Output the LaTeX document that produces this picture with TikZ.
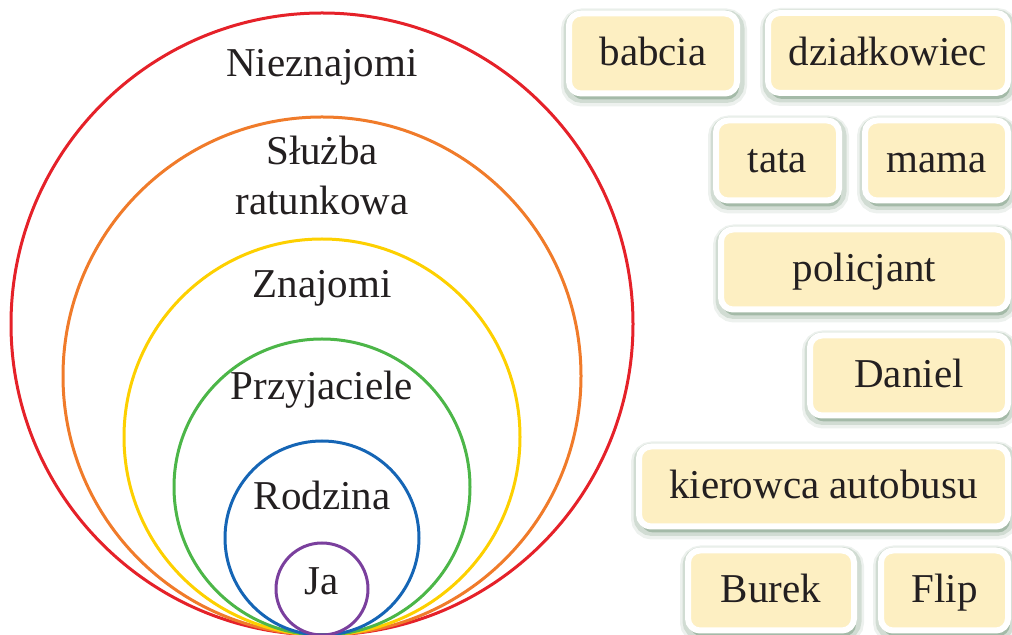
\documentclass[tikz,border=0pt]{standalone}
\usepackage{fontspec}
\setmainfont{Liberation Serif}
\usetikzlibrary{shadows}
\definecolor{ringred}{HTML}{E52129}
\definecolor{ringorange}{HTML}{F07B2A}
\definecolor{ringyellow}{HTML}{FDD000}
\definecolor{ringgreen}{HTML}{4CB648}
\definecolor{ringblue}{HTML}{1565B5}
\definecolor{ringpurple}{HTML}{7A3F9D}
\definecolor{tagfill}{HTML}{FDEFC2}
\definecolor{tagshadow}{HTML}{7F9E84}
\definecolor{ink}{HTML}{231F20}
\begin{document}
\begin{tikzpicture}[
   x=0.5pt,y=-0.5pt,
   ring/.style={line width=1.5pt},
   ringtext/.style={anchor=base,text=ink,inner sep=0pt,font=\fontsize{20.5}{25}\selectfont},
   tag/.style={rounded corners=6pt,fill=tagfill,draw=white,line width=3pt,
     text=ink,font=\fontsize{20.5}{25}\selectfont,inner sep=0pt,
     minimum height=40pt,text height=16.6pt,text depth=4.1pt,
     preaction={draw=tagshadow,line width=9pt,opacity=.14,transform canvas={xshift=.5pt,yshift=-2pt}},
     preaction={draw=tagshadow,line width=6.5pt,opacity=.25,transform canvas={xshift=.5pt,yshift=-1.5pt}},
     drop shadow={shadow xshift=1pt,shadow yshift=-3pt,fill=tagshadow,opacity=.55}}
 ]
  \useasboundingbox (0,0) rectangle (1012,635);
  \coordinate (touch) at (322,635);
  \foreach \r/\c in {311/ringred,259/ringorange,198/ringyellow,148/ringgreen,97/ringblue,46/ringpurple}
    \draw[ring,\c] (touch) ++(0,-\r) circle[radius=0.5*\r pt];

  \node[ringtext] (nieznajomi) at (322,77) {Nieznajomi};
  \node[ringtext] (sluzba) at (322,165) {Służba};
  \node[ringtext] (ratunkowa) at (322,215) {ratunkowa};
  \node[ringtext] (znajomi) at (322,298) {Znajomi};
  \node[ringtext] (przyjaciele) at (322,400) {Przyjaciele};
  \node[ringtext] (rodzina) at (322,510) {Rodzina};
  \node[ringtext] (ja) at (322,595) {Ja};

  \node[tag,minimum width=84pt] (babcia) at (653,53.5) {babcia};
  \node[tag,minimum width=120pt] (dzialkowiec) at (888,53) {działkowiec};
  \node[tag,minimum width=61.5pt] (tata) at (777.5,160.5) {tata};
  \node[tag,minimum width=71.5pt] (mama) at (936.5,160.5) {mama};
  \node[tag,minimum width=143.5pt] (policjant) at (864.5,269.5) {policjant};
  \node[tag,minimum width=99pt] (daniel) at (909,375.5) {Daniel};
  \node[tag,minimum width=184.5pt] (kierowca) at (823.5,486.5) {kierowca autobusu};
  \node[tag,minimum width=83pt] (burek) at (771,590.5) {Burek};
  \node[tag,minimum width=63.5pt] (flip) at (944.5,590.5) {Flip};
\end{tikzpicture}
\end{document}
